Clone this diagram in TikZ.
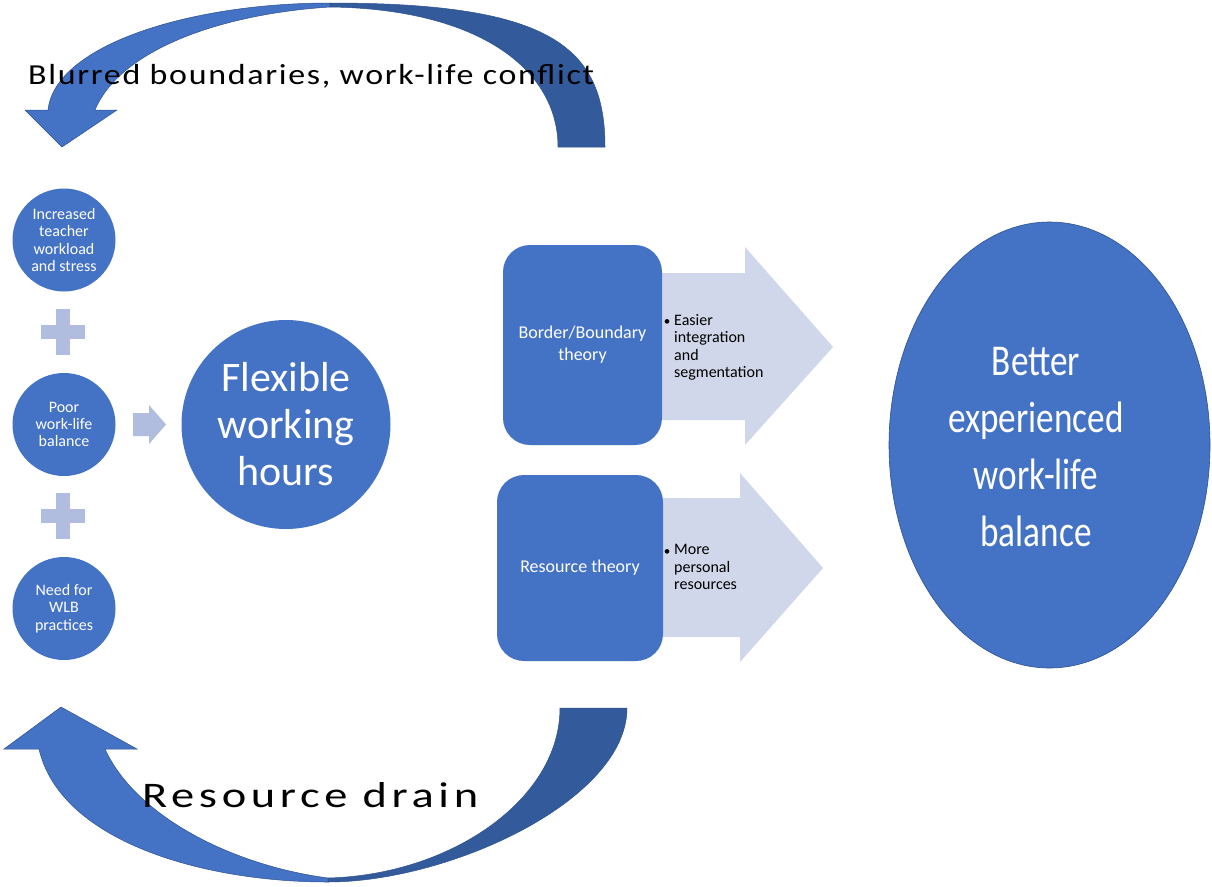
\documentclass[tikz,border=0pt]{standalone}
\usepackage{fontspec}
\usepackage{graphicx}
\setmainfont{Carlito}
\newfontfamily\toplabfont[LetterSpace=5]{Carlito}
\newfontfamily\botlabfont[LetterSpace=10]{Carlito}
\usetikzlibrary{shapes.geometric}
\definecolor{mblue}{HTML}{4472C4}
\definecolor{medge}{HTML}{2F528F}
\definecolor{mdark}{HTML}{335A9A}
\definecolor{mplus}{HTML}{B0BDDF}
\definecolor{mlight}{HTML}{D1D7EA}
\newcommand\sqz[1]{\scalebox{0.8}[1]{#1}}
\begin{document}
\begin{tikzpicture}[x=1pt,y=-1pt,
  smallc/.style={circle,fill=mblue,minimum size=103pt,inner sep=0pt,text=white,align=center,font=\fontsize{16}{17.3}\selectfont},
  bigc/.style={circle,fill=mblue,minimum size=209pt,inner sep=0pt,text=white,align=center,font=\fontsize{42}{47}\selectfont},
  theorybox/.style={rectangle,rounded corners=27pt,fill=mblue,inner sep=0pt,text=white,align=center,font=\fontsize{18}{22}\selectfont},
  bullettext/.style={align=left,inner sep=0pt,font=\fontsize{16}{17.2}\selectfont,text=black},
  bulletmark/.style={anchor=base,inner sep=0pt,font=\fontsize{13}{15}\selectfont,text=black},
  plusfill/.style={fill=mplus},
  blockarrow/.style={fill=mlight},
  lightface/.style={fill=mblue,draw=medge,line width=0.5pt},
  darkface/.style={fill=mdark,draw=medge,line width=0.5pt}]
\useasboundingbox[fill=white] (0,0) rectangle (1212,886);

% top curved arrow
\path[lightface] (330,3) .. controls (190,3) and (55,45) .. (48,110) -- (25,110) -- (62,147) -- (117,110) -- (95,110) .. controls (120,50) and (220,14) .. (330,7) -- cycle;
\path[darkface] (330,3) .. controls (550,3) and (605,46) .. (605,147) -- (558,147) .. controls (558,70) and (480,9) .. (330,7) -- cycle;

% bottom curved arrow
\path[lightface] (328,882) .. controls (200,882) and (60,840) .. (39,749) -- (4,749) -- (61,707) -- (137,749) -- (105,749) .. controls (135,815) and (230,865) .. (328,878) -- cycle;
\path[darkface] (328,882) .. controls (450,882) and (627,800) .. (627,708) -- (560,708) .. controls (560,800) and (450,875) .. (328,878) -- cycle;

\node[anchor=base west,inner sep=0pt,font=\toplabfont\fontsize{29}{33}\selectfont] (toplab) at (28,84) {\scalebox{1.17}[1]{Blurred boundaries, work-life conflict}};
\node[anchor=base west,inner sep=0pt,font=\botlabfont\fontsize{36}{42}\selectfont] (botlab) at (142,807) {\scalebox{1.29}[1]{Resource drain}};

% plus signs and small arrow
\path[plusfill] (56,309) rectangle (70,355);
\path[plusfill] (41,325) rectangle (85,339);
\path[plusfill] (56,493) rectangle (70,539);
\path[plusfill] (41,509) rectangle (85,523);
\path[plusfill] (133,413) -- (149,413) -- (149,405) -- (166,424.5) -- (149,444) -- (149,436) -- (133,436) -- cycle;

% left circles
\node[smallc] (c1) at (64,240) {Increased\\teacher\\workload\\and stress};
\node[smallc] (c2) at (64,424.5) {Poor\\work-life\\balance};
\node[smallc] (c3) at (64,608.5) {Need for\\WLB\\practices};
\node[bigc] (flex) at (286,424.5) {Flexible\\working\\hours};

% block arrows
\path[blockarrow] (660,273) -- (745,273) -- (745,247) -- (833,347) -- (745,445) -- (745,420) -- (660,420) -- cycle;
\path[blockarrow] (660,498) -- (740,498) -- (740,473) -- (823,568) -- (740,662) -- (740,637) -- (660,637) -- cycle;

% theory boxes
\node[theorybox,minimum width=159pt,minimum height=200pt] (border) at (582.5,345) {Border/Boundary\\theory};
\node[theorybox,minimum width=166pt,minimum height=186pt] (res) at (580,568) {Resource theory};

% bullet texts
\node[bulletmark] (bm1) at (667,325) {\textbullet};
\node[bullettext,anchor=west] (t1) at (674,347.3) {Easier\\integration\\and\\segmentation};
\node[bulletmark] (bm2) at (667,555) {\textbullet};
\node[bullettext,anchor=west] (t2) at (674,567) {More\\personal\\resources};

% outcome ellipse
\node[ellipse,fill=mblue,draw=medge,line width=0.6pt,minimum width=321pt,minimum height=446pt,inner sep=0pt] (wlb) at (1049.5,445) {};
\node[text=white,align=center,inner sep=0pt,font=\fontsize{44}{57}\selectfont] (wlbtext) at (1036,447) {\sqz{Better}\\\sqz{experienced}\\\sqz{work-life}\\\sqz{balance}};
\end{tikzpicture}
\end{document}
